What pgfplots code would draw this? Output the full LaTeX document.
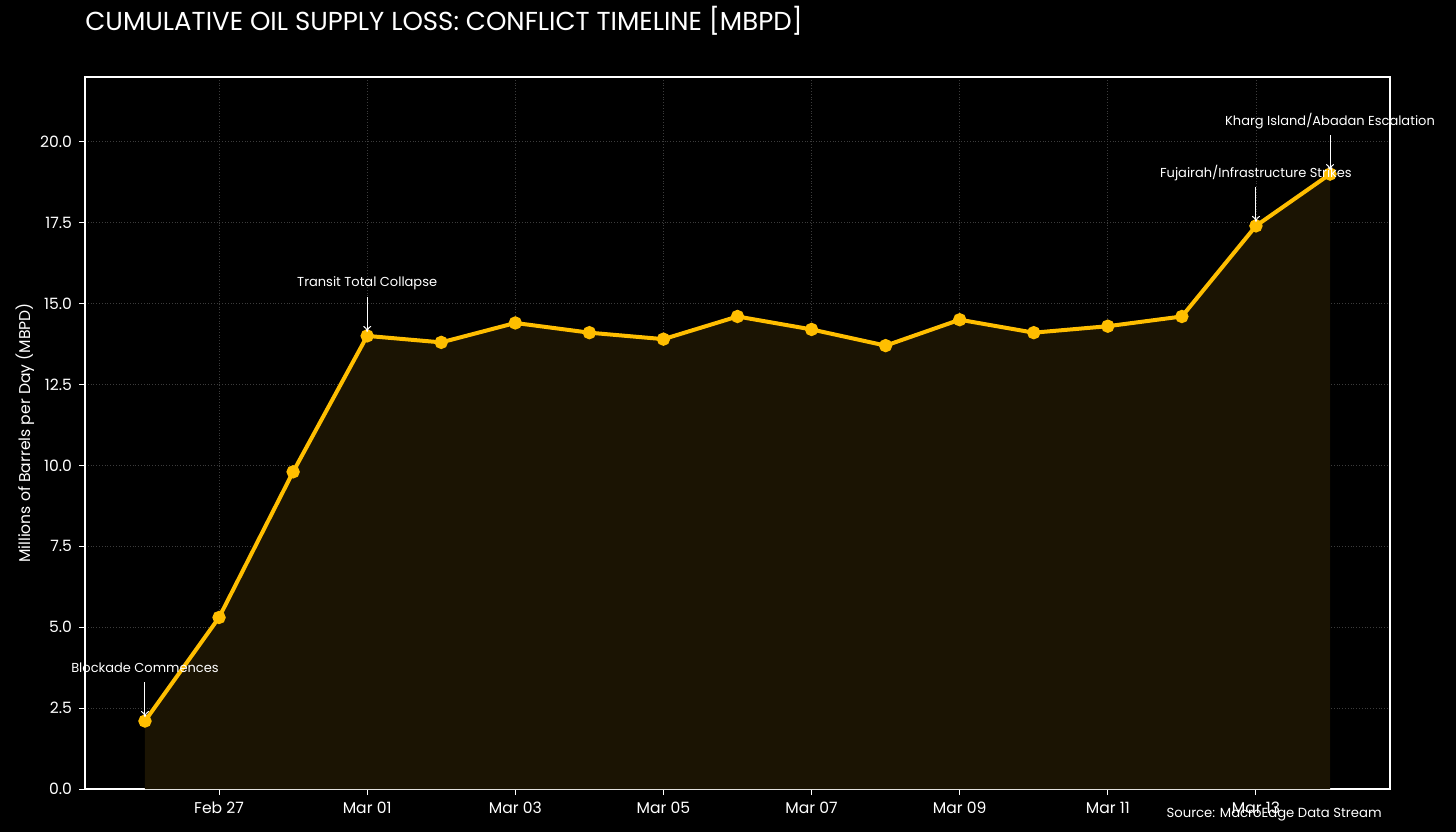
\documentclass[border=0pt]{standalone}
\usepackage{pgfplots}
\pgfplotsset{compat=1.18}
\usetikzlibrary{arrows.meta}
\usepackage{fontspec}
\setmainfont{Poppins}
\definecolor{gold}{RGB}{255,190,0}
\definecolor{goldfill}{RGB}{27,20,3}
\definecolor{gridc}{RGB}{60,60,60}

\pgfplotstableread{
x y
0 2.1
1 5.3
2 9.8
3 14.0
4 13.8
5 14.4
6 14.1
7 13.9
8 14.6
9 14.2
10 13.7
11 14.5
12 14.1
13 14.3
14 14.6
15 17.4
16 19.0
}\supply

\begin{document}
\begin{tikzpicture}
\fill[black] (-42.5pt,-21.5pt) rectangle (685.5pt,394.5pt);
\begin{axis}[
  at={(0pt,0pt)}, anchor=south west,
  scale only axis, width=652.5pt, height=356pt,
  xmin=-0.81, xmax=16.81, ymin=0, ymax=22,
  clip mode=individual,
  axis line style={white, line width=0.6pt},
  xtick={1,3,5,7,9,11,13,15},
  xticklabels={Feb 27, Mar 01, Mar 03, Mar 05, Mar 07, Mar 09, Mar 11, Mar 13},
  ytick={0,2.5,...,20},
  yticklabel style={/pgf/number format/.cd, fixed, fixed zerofill, precision=1},
  /pgf/number format/assume math mode=true,
  tick label style={white, font=\fontsize{7.8}{9}\selectfont},
  tick style={white, line width=0.5pt},
  major tick length=3pt,
  tick align=outside,
  xtick pos=left, ytick pos=left,
  grid=major,
  major grid style={gridc, densely dotted, line width=0.4pt},
  ylabel={Millions of Barrels per Day (MBPD)},
  ylabel style={white, font=\fontsize{7.8}{9}\selectfont, at={(axis description cs:-0.046,0.5)}, anchor=center},
]
\addplot[fill=goldfill, draw=none] table[x=x, y=y] {\supply} \closedcycle;
\addplot[gold, line width=2pt, mark=*, mark size=2.3pt, mark options={fill=gold, draw=gold}] table[x=x, y=y] {\supply};

\tikzset{ann/.style={white, font=\fontsize{6.5}{8}\selectfont}, annarrow/.style={white, line width=0.5pt, -{To[length=3pt, width=4pt]}}}
\draw[annarrow] ([yshift=19.5pt]axis cs:0,2.1) -- ([yshift=2pt]axis cs:0,2.1);
\node[ann] at ([yshift=26.5pt]axis cs:0,2.1) {Blockade Commences};
\draw[annarrow] ([yshift=19.5pt]axis cs:3,14.0) -- ([yshift=2pt]axis cs:3,14.0);
\node[ann] at ([yshift=26.5pt]axis cs:3,14.0) {Transit Total Collapse};
\draw[annarrow] ([yshift=19.5pt]axis cs:15,17.4) -- ([yshift=2pt]axis cs:15,17.4);
\node[ann] at ([yshift=26.5pt]axis cs:15,17.4) {Fujairah/Infrastructure Strikes};
\draw[annarrow] ([yshift=19.5pt]axis cs:16,19.0) -- ([yshift=2pt]axis cs:16,19.0);
\node[ann] at ([yshift=26.5pt]axis cs:16,19.0) {Kharg Island/Abadan Escalation};
\end{axis}
\node[anchor=base west, white, font=\fontsize{13}{15}\selectfont, inner xsep=0pt] at (0pt,379pt) {CUMULATIVE OIL SUPPLY LOSS: CONFLICT TIMELINE [MBPD]};
\node[anchor=base east, white, font=\fontsize{6.6}{8}\selectfont, inner xsep=0pt] at (648.5pt,-14pt) {Source: MacroEdge Data Stream};
\pgfresetboundingbox
\path (-42.5pt,-21.5pt) rectangle (685.5pt,394.5pt);
\end{tikzpicture}
\end{document}
